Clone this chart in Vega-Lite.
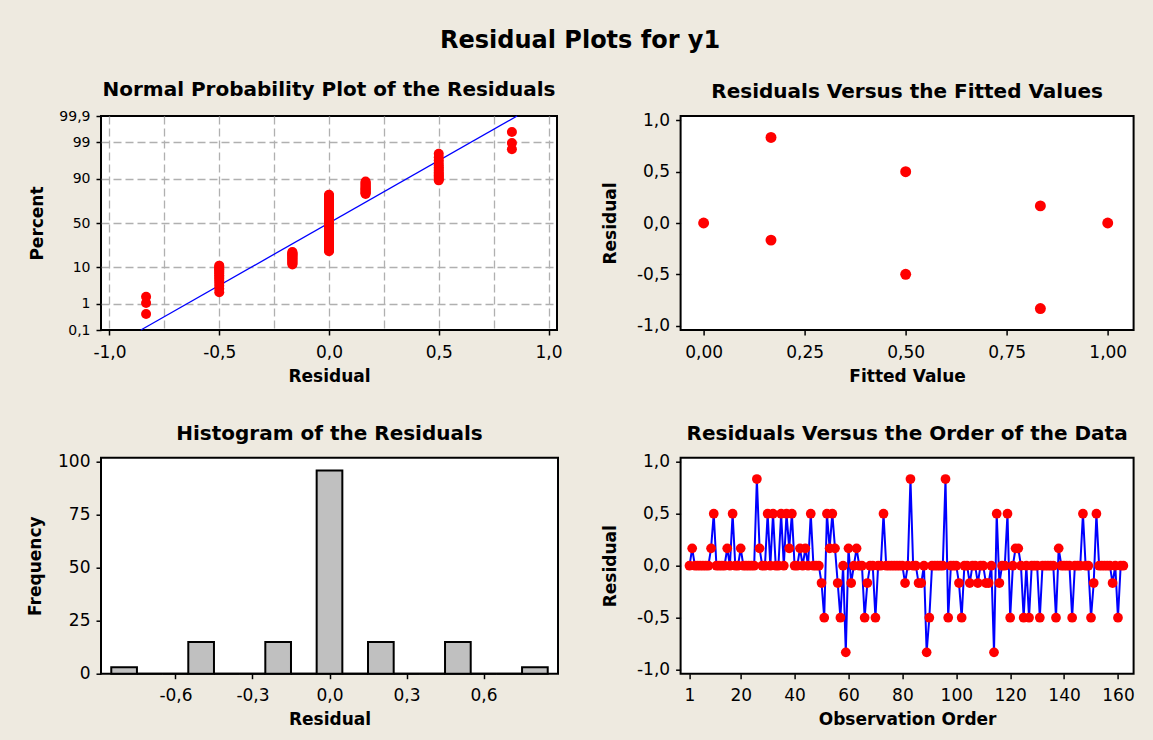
{
"$schema": "https://vega.github.io/schema/vega-lite/v6.json",
"background": "#EEEAE0",
"padding": {"left": 25, "top": 29, "right": 20, "bottom": 15},
"title": {"text": "Residual Plots for y1", "fontSize": 24, "font": "DejaVu Sans", "fontWeight": "bold", "color": "black", "offset": 7, "anchor": "middle", "baseline": "alphabetic", "frame": "bounds"},
"bounds": "flush",
"columns": 2,
"spacing": {"row": 127.7, "column": 122.6},
"datasets": {
"npp_line": [{"r": -0.857, "z": -3.0902}, {"r": 0.857, "z": 3.0902}],
"npp": [
{"r":-0.8333,"z":-2.628},{"r":-0.8333,"z":-2.309},{"r":-0.8333,"z":-2.129},
{"r":-0.5,"z":-2.000},{"r":-0.5,"z":-1.897},{"r":-0.5,"z":-1.811},{"r":-0.5,"z":-1.736},{"r":-0.5,"z":-1.670},{"r":-0.5,"z":-1.611},{"r":-0.5,"z":-1.557},{"r":-0.5,"z":-1.507},{"r":-0.5,"z":-1.461},{"r":-0.5,"z":-1.417},{"r":-0.5,"z":-1.376},{"r":-0.5,"z":-1.338},{"r":-0.5,"z":-1.301},{"r":-0.5,"z":-1.266},{"r":-0.5,"z":-1.232},
{"r":-0.1667,"z":-1.200},{"r":-0.1667,"z":-1.168},{"r":-0.1667,"z":-1.138},{"r":-0.1667,"z":-1.110},{"r":-0.1667,"z":-1.081},{"r":-0.1667,"z":-1.054},{"r":-0.1667,"z":-1.027},{"r":-0.1667,"z":-1.002},{"r":-0.1667,"z":-0.976},{"r":-0.1667,"z":-0.952},{"r":-0.1667,"z":-0.928},{"r":-0.1667,"z":-0.904},{"r":-0.1667,"z":-0.882},{"r":-0.1667,"z":-0.859},{"r":-0.1667,"z":-0.837},
{"r":0,"z":-0.815},{"r":0,"z":-0.794},{"r":0,"z":-0.773},{"r":0,"z":-0.752},{"r":0,"z":-0.732},{"r":0,"z":-0.712},{"r":0,"z":-0.692},{"r":0,"z":-0.673},{"r":0,"z":-0.653},{"r":0,"z":-0.634},{"r":0,"z":-0.615},{"r":0,"z":-0.597},{"r":0,"z":-0.579},{"r":0,"z":-0.560},{"r":0,"z":-0.542},{"r":0,"z":-0.524},{"r":0,"z":-0.507},{"r":0,"z":-0.490},{"r":0,"z":-0.472},{"r":0,"z":-0.455},{"r":0,"z":-0.438},{"r":0,"z":-0.421},{"r":0,"z":-0.404},{"r":0,"z":-0.388},{"r":0,"z":-0.371},{"r":0,"z":-0.355},{"r":0,"z":-0.338},{"r":0,"z":-0.322},{"r":0,"z":-0.306},{"r":0,"z":-0.290},{"r":0,"z":-0.274},{"r":0,"z":-0.258},{"r":0,"z":-0.242},{"r":0,"z":-0.226},{"r":0,"z":-0.210},{"r":0,"z":-0.194},{"r":0,"z":-0.178},{"r":0,"z":-0.163},{"r":0,"z":-0.147},{"r":0,"z":-0.132},{"r":0,"z":-0.116},{"r":0,"z":-0.101},{"r":0,"z":-0.085},{"r":0,"z":-0.070},{"r":0,"z":-0.054},{"r":0,"z":-0.039},{"r":0,"z":-0.023},{"r":0,"z":-0.008},
{"r":0,"z":0.008},{"r":0,"z":0.023},{"r":0,"z":0.039},{"r":0,"z":0.054},{"r":0,"z":0.070},{"r":0,"z":0.085},{"r":0,"z":0.101},{"r":0,"z":0.116},{"r":0,"z":0.132},{"r":0,"z":0.147},{"r":0,"z":0.163},{"r":0,"z":0.178},{"r":0,"z":0.194},{"r":0,"z":0.210},{"r":0,"z":0.226},{"r":0,"z":0.242},{"r":0,"z":0.258},{"r":0,"z":0.274},{"r":0,"z":0.290},{"r":0,"z":0.306},{"r":0,"z":0.322},{"r":0,"z":0.338},{"r":0,"z":0.355},{"r":0,"z":0.371},{"r":0,"z":0.388},{"r":0,"z":0.404},{"r":0,"z":0.421},{"r":0,"z":0.438},{"r":0,"z":0.455},{"r":0,"z":0.472},{"r":0,"z":0.490},{"r":0,"z":0.507},{"r":0,"z":0.524},{"r":0,"z":0.542},{"r":0,"z":0.560},{"r":0,"z":0.579},{"r":0,"z":0.597},{"r":0,"z":0.615},{"r":0,"z":0.634},{"r":0,"z":0.653},{"r":0,"z":0.673},{"r":0,"z":0.692},{"r":0,"z":0.712},{"r":0,"z":0.732},{"r":0,"z":0.752},{"r":0,"z":0.773},{"r":0,"z":0.794},{"r":0,"z":0.815},
{"r":0.1667,"z":0.837},{"r":0.1667,"z":0.859},{"r":0.1667,"z":0.882},{"r":0.1667,"z":0.904},{"r":0.1667,"z":0.928},{"r":0.1667,"z":0.952},{"r":0.1667,"z":0.976},{"r":0.1667,"z":1.002},{"r":0.1667,"z":1.027},{"r":0.1667,"z":1.054},{"r":0.1667,"z":1.081},{"r":0.1667,"z":1.110},{"r":0.1667,"z":1.138},{"r":0.1667,"z":1.168},{"r":0.1667,"z":1.200},
{"r":0.5,"z":1.232},{"r":0.5,"z":1.266},{"r":0.5,"z":1.301},{"r":0.5,"z":1.338},{"r":0.5,"z":1.376},{"r":0.5,"z":1.417},{"r":0.5,"z":1.461},{"r":0.5,"z":1.507},{"r":0.5,"z":1.557},{"r":0.5,"z":1.611},{"r":0.5,"z":1.670},{"r":0.5,"z":1.736},{"r":0.5,"z":1.811},{"r":0.5,"z":1.897},{"r":0.5,"z":2.000},
{"r":0.8333,"z":2.129},{"r":0.8333,"z":2.309},{"r":0.8333,"z":2.628}
],
"fit": [
{"f":0,"r":0},{"f":0.1667,"r":0.8333},{"f":0.1667,"r":-0.1667},{"f":0.5,"r":0.5},{"f":0.5,"r":-0.5},{"f":0.8333,"r":0.1667},{"f":0.8333,"r":-0.8333},{"f":1,"r":0}
],
"hist": [
{"lo":-0.85,"hi":-0.75,"count":3},{"lo":-0.75,"hi":-0.65,"count":0},{"lo":-0.65,"hi":-0.55,"count":0},{"lo":-0.55,"hi":-0.45,"count":15},{"lo":-0.45,"hi":-0.35,"count":0},{"lo":-0.35,"hi":-0.25,"count":0},{"lo":-0.25,"hi":-0.15,"count":15},{"lo":-0.15,"hi":-0.05,"count":0},{"lo":-0.05,"hi":0.05,"count":96},{"lo":0.05,"hi":0.15,"count":0},{"lo":0.15,"hi":0.25,"count":15},{"lo":0.25,"hi":0.35,"count":0},{"lo":0.35,"hi":0.45,"count":0},{"lo":0.45,"hi":0.55,"count":15},{"lo":0.55,"hi":0.65,"count":0},{"lo":0.65,"hi":0.75,"count":0},{"lo":0.75,"hi":0.85,"count":3}
],
"order": [
{"o":1,"r":0},{"o":2,"r":0.1667},{"o":3,"r":0},{"o":4,"r":0},{"o":5,"r":0},{"o":6,"r":0},{"o":7,"r":0},{"o":8,"r":0},{"o":9,"r":0.1667},{"o":10,"r":0.5},
{"o":11,"r":0},{"o":12,"r":0},{"o":13,"r":0},{"o":14,"r":0},{"o":15,"r":0.1667},{"o":16,"r":0},{"o":17,"r":0.5},{"o":18,"r":0},{"o":19,"r":0},{"o":20,"r":0.1667},
{"o":21,"r":0},{"o":22,"r":0},{"o":23,"r":0},{"o":24,"r":0},{"o":25,"r":0},{"o":26,"r":0.8333},{"o":27,"r":0.1667},{"o":28,"r":0},{"o":29,"r":0},{"o":30,"r":0.5},
{"o":31,"r":0},{"o":32,"r":0.5},{"o":33,"r":0},{"o":34,"r":0},{"o":35,"r":0.5},{"o":36,"r":0},{"o":37,"r":0.5},{"o":38,"r":0.1667},{"o":39,"r":0.5},{"o":40,"r":0},
{"o":41,"r":0},{"o":42,"r":0.1667},{"o":43,"r":0},{"o":44,"r":0.1667},{"o":45,"r":0},{"o":46,"r":0.5},{"o":47,"r":0},{"o":48,"r":0},{"o":49,"r":0},{"o":50,"r":-0.1667},
{"o":51,"r":-0.5},{"o":52,"r":0.5},{"o":53,"r":0.1667},{"o":54,"r":0.5},{"o":55,"r":0.1667},{"o":56,"r":-0.1667},{"o":57,"r":-0.5},{"o":58,"r":0},{"o":59,"r":-0.8333},{"o":60,"r":0.1667},
{"o":61,"r":-0.1667},{"o":62,"r":0},{"o":63,"r":0.1667},{"o":64,"r":0},{"o":65,"r":0},{"o":66,"r":-0.5},{"o":67,"r":-0.1667},{"o":68,"r":0},{"o":69,"r":0},{"o":70,"r":-0.5},
{"o":71,"r":0},{"o":72,"r":0},{"o":73,"r":0.5},{"o":74,"r":0},{"o":75,"r":0},{"o":76,"r":0},{"o":77,"r":0},{"o":78,"r":0},{"o":79,"r":0},{"o":80,"r":0},
{"o":81,"r":-0.1667},{"o":82,"r":0},{"o":83,"r":0.8333},{"o":84,"r":0},{"o":85,"r":0},{"o":86,"r":-0.1667},{"o":87,"r":-0.1667},{"o":88,"r":0},{"o":89,"r":-0.8333},{"o":90,"r":-0.5},
{"o":91,"r":0},{"o":92,"r":0},{"o":93,"r":0},{"o":94,"r":0},{"o":95,"r":0},{"o":96,"r":0.8333},{"o":97,"r":-0.5},{"o":98,"r":0},{"o":99,"r":0},{"o":100,"r":0},
{"o":101,"r":-0.1667},{"o":102,"r":-0.5},{"o":103,"r":0},{"o":104,"r":0},{"o":105,"r":-0.1667},{"o":106,"r":0},{"o":107,"r":0},{"o":108,"r":-0.1667},{"o":109,"r":0},{"o":110,"r":0},
{"o":111,"r":-0.1667},{"o":112,"r":-0.1667},{"o":113,"r":0},{"o":114,"r":-0.8333},{"o":115,"r":0.5},{"o":116,"r":-0.1667},{"o":117,"r":0},{"o":118,"r":0},{"o":119,"r":0.5},{"o":120,"r":-0.5},
{"o":121,"r":0},{"o":122,"r":0.1667},{"o":123,"r":0.1667},{"o":124,"r":0},{"o":125,"r":-0.5},{"o":126,"r":0},{"o":127,"r":-0.5},{"o":128,"r":0},{"o":129,"r":0},{"o":130,"r":0},
{"o":131,"r":-0.5},{"o":132,"r":0},{"o":133,"r":0},{"o":134,"r":0},{"o":135,"r":0},{"o":136,"r":0},{"o":137,"r":-0.5},{"o":138,"r":0.1667},{"o":139,"r":0},{"o":140,"r":0},
{"o":141,"r":0},{"o":142,"r":0},{"o":143,"r":-0.5},{"o":144,"r":0},{"o":145,"r":0},{"o":146,"r":0},{"o":147,"r":0.5},{"o":148,"r":0},{"o":149,"r":0},{"o":150,"r":-0.5},
{"o":151,"r":-0.1667},{"o":152,"r":0.5},{"o":153,"r":0},{"o":154,"r":0},{"o":155,"r":0},{"o":156,"r":0},{"o":157,"r":0},{"o":158,"r":-0.1667},{"o":159,"r":0},{"o":160,"r":-0.5},
{"o":161,"r":0},{"o":162,"r":0}
]
},
"concat": [
{
"width": 456, "height": 214,
"title": {"text": "Normal Probability Plot of the Residuals"},
"layer": [
{"data": {"name": "npp_line"}, "mark": {"type": "line", "color": "#0000FF", "strokeWidth": 1.3},
"encoding": {
"x": {"field": "r", "type": "quantitative", "scale": {"domain": [-1.0387, 1.0387], "nice": false, "zero": false},
"axis": {"title": "Residual", "tickCount": 30, "values": [-1, -0.75, -0.5, -0.25, 0, 0.25, 0.5, 0.75, 1], "format": ".1f",
"labelExpr": "(datum.value == -1 || datum.value == -0.5 || datum.value == 0 || datum.value == 0.5 || datum.value == 1) ? datum.label : ''",
"tickOpacity": {"condition": {"test": "abs(datum.value) == 0.25 || abs(datum.value) == 0.75", "value": 0}, "value": 1},
"grid": true, "gridColor": "#B0B0B0", "gridDash": [8, 4], "gridWidth": 1.3}},
"y": {"field": "z", "type": "quantitative", "scale": {"domain": [-3.0902, 3.0902], "nice": false, "zero": false},
"axis": {"title": "Percent", "titleX": -64, "titleBaseline": "middle", "labelFontSize": 14, "tickCount": 30,
"values": [-3.0902, -2.3263, -1.2816, 0, 1.2816, 2.3263, 3.0902],
"labelExpr": "datum.value < -3 ? '0,1' : datum.value < -2 ? '1' : datum.value < -1 ? '10' : datum.value < 1 ? '50' : datum.value < 2 ? '90' : datum.value < 3 ? '99' : '99,9'",
"grid": true, "gridColor": "#B0B0B0", "gridDash": [8, 4], "gridWidth": 1.3,
"gridOpacity": {"condition": {"test": "abs(datum.value) > 3", "value": 0}, "value": 1}}}
}},
{"data": {"name": "npp"}, "mark": {"type": "circle", "color": "#FF0000", "opacity": 1, "size": 100},
"encoding": {"x": {"field": "r", "type": "quantitative"}, "y": {"field": "z", "type": "quantitative"}}}
]
},
{
"width": 453, "height": 214,
"title": {"text": "Residuals Versus the Fitted Values"},
"layer": [
{"mark": {"type": "rule", "color": "#606060", "strokeWidth": 2}, "encoding": {"y": {"datum": 0, "type": "quantitative", "scale": {"domain": [-1.042, 1.042], "nice": false, "zero": false}}}},
{"data": {"name": "fit"}, "mark": {"type": "circle", "color": "#FF0000", "opacity": 1, "size": 120},
"encoding": {
"x": {"field": "f", "type": "quantitative", "scale": {"domain": [-0.057, 1.064], "nice": false, "zero": false},
"axis": {"title": "Fitted Value", "tickCount": 30, "values": [0, 0.25, 0.5, 0.75, 1], "format": ".2f"}},
"y": {"field": "r", "type": "quantitative", "scale": {"domain": [-1.042, 1.042], "nice": false, "zero": false},
"axis": {"title": "Residual", "titleX": -70, "titleBaseline": "middle", "tickCount": 30, "values": [-1, -0.5, 0, 0.5, 1], "format": ".1f"}}
}}
]
},
{
"width": 457, "height": 216,
"title": {"text": "Histogram of the Residuals"},
"data": {"name": "hist"},
"mark": {"type": "rect", "fill": "#C0C0C0", "stroke": "black", "strokeWidth": 2},
"encoding": {
"x": {"field": "lo", "type": "quantitative", "scale": {"domain": [-0.89, 0.89], "nice": false, "zero": false},
"axis": {"title": "Residual", "tickCount": 30, "values": [-0.6, -0.3, 0, 0.3, 0.6], "format": ".1f"}},
"x2": {"field": "hi"},
"y": {"field": "count", "type": "quantitative", "scale": {"domain": [0, 102], "nice": false},
"axis": {"title": "Frequency", "titleX": -66, "titleBaseline": "middle", "tickCount": 30, "values": [0, 25, 50, 75, 100], "format": "d"}},
"y2": {"datum": 0}
}
},
{
"width": 453, "height": 216,
"title": {"text": "Residuals Versus the Order of the Data"},
"layer": [
{"mark": {"type": "rule", "color": "#606060", "strokeWidth": 2}, "encoding": {"y": {"datum": 0, "type": "quantitative", "scale": {"domain": [-1.0385, 1.0385], "nice": false, "zero": false}}}},
{"data": {"name": "order"}, "mark": {"type": "line", "color": "#0000FF", "strokeWidth": 2},
"encoding": {
"x": {"field": "o", "type": "quantitative", "scale": {"domain": [-2.3, 165.8], "nice": false, "zero": false},
"axis": {"title": "Observation Order", "tickCount": 30, "values": [1, 20, 40, 60, 80, 100, 120, 140, 160], "format": "d"}},
"y": {"field": "r", "type": "quantitative", "scale": {"domain": [-1.0385, 1.0385], "nice": false, "zero": false},
"axis": {"title": "Residual", "titleX": -70, "titleBaseline": "middle", "tickCount": 30, "values": [-1, -0.5, 0, 0.5, 1], "format": ".1f"}}
}},
{"data": {"name": "order"}, "mark": {"type": "circle", "color": "#FF0000", "opacity": 1, "size": 95},
"encoding": {"x": {"field": "o", "type": "quantitative"}, "y": {"field": "r", "type": "quantitative"}}}
]
}
],
"config": {
"locale": {"number": {"decimal": ",", "thousands": ".", "grouping": [3], "currency": ["", ""], "minus": "-"}},
"font": "DejaVu Sans",
"view": {"stroke": "black", "strokeWidth": 2, "fill": "white"},
"axis": {"domain": false, "grid": false, "ticks": true, "tickColor": "black", "tickWidth": 1.5, "tickSize": 5,
"labelFont": "DejaVu Sans", "labelFontSize": 17, "labelColor": "black", "labelPadding": 9, "labelFlush": false, "labelOverlap": false,
"titleFont": "DejaVu Sans", "titleFontSize": 17, "titleFontWeight": "bold", "titleColor": "black", "titlePadding": 8},
"axisY": {"labelPadding": 6},
"title": {"font": "DejaVu Sans", "fontSize": 20, "fontWeight": "bold", "color": "black", "offset": 9, "baseline": "alphabetic", "frame": "group"}
}
}
